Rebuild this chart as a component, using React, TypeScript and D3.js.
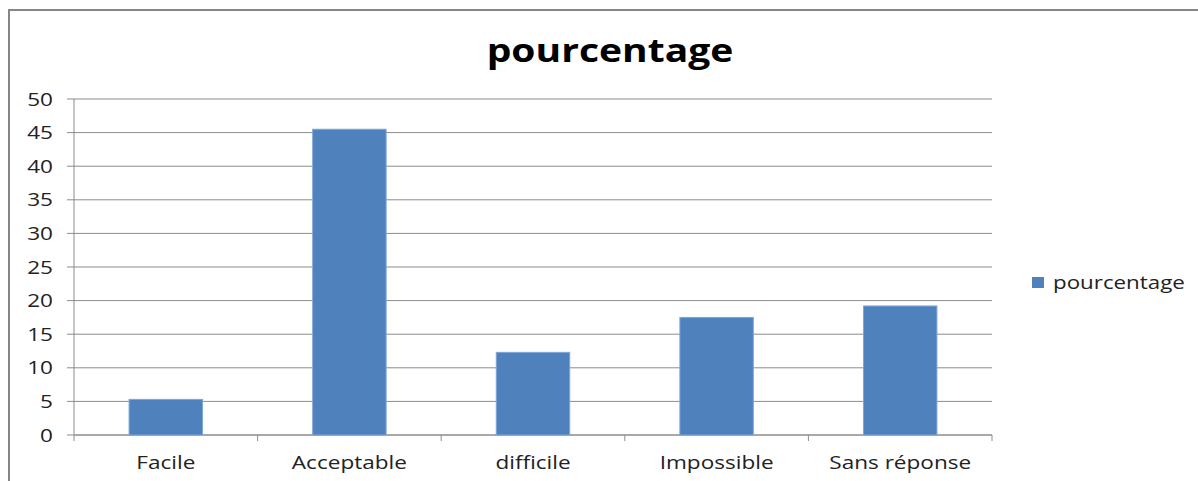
import * as d3 from 'd3'

const CATEGORIES = ['Facile', 'Acceptable', 'difficile', 'Impossible', 'Sans réponse']
const VALUES = [5.3, 45.5, 12.3, 17.5, 19.2]
const Y_TICKS = [0, 5, 10, 15, 20, 25, 30, 35, 40, 45, 50]
const SERIES_NAME = 'pourcentage'
const TITLE = 'pourcentage'

const W = 1198
const H = 481
const PLOT = { left: 74, right: 992, top: 99, bottom: 435 }
const FONT = "'Open Sans', 'DejaVu Sans', sans-serif"
const BAR = '#4f81bd'
const SX = 1.22 // the source picture is stretched sideways

function Label({ x, y, anchor = 'start', size = 18.5, bold = false, children }: any) {
  return (
    <text
      transform={`translate(${x},${y}) scale(${SX},1)`}
      textAnchor={anchor}
      fontFamily={FONT}
      fontSize={size}
      fontWeight={bold ? 'bold' : 'normal'}
      fill={bold ? '#000' : '#222'}
    >
      {children}
    </text>
  )
}

export default function App() {
  const x = d3.scaleBand()
    .domain(CATEGORIES)
    .range([PLOT.left, PLOT.right])
    .paddingInner(0.6)
    .paddingOuter(0.3)

  const y = d3.scaleLinear()
    .domain([0, 50])
    .range([PLOT.bottom, PLOT.top])

  const bounds = [PLOT.left, ...CATEGORIES.map(c => (x(c) ?? 0) + x.bandwidth() + x.step() * x.paddingInner() / 2)]
  bounds[bounds.length - 1] = PLOT.right

  return (
    <svg width={W} height={H} style={{ position: 'absolute', left: 0, top: 0 }}>
      <rect x={0} y={0} width={W} height={H} fill="#fff" />
      {/* outer frame */}
      <path d={`M9,${H} V10 H${W}`} fill="none" stroke="#868686" strokeWidth={2} />

      <Label x={610} y={62} anchor="middle" size={32} bold>{TITLE}</Label>

      {/* gridlines */}
      {Y_TICKS.map(t => (
        <line key={`g${t}`} x1={67} x2={PLOT.right} y1={y(t)} y2={y(t)} stroke="#8c8c8c" strokeWidth={1} />
      ))}
      {Y_TICKS.map(t => (
        <Label key={`t${t}`} x={53} y={y(t) + 6.5} anchor="end">{t}</Label>
      ))}

      {/* axes */}
      <line x1={PLOT.left} x2={PLOT.left} y1={PLOT.top} y2={PLOT.bottom} stroke="#8c8c8c" />
      <line x1={PLOT.left} x2={PLOT.right} y1={PLOT.bottom} y2={PLOT.bottom} stroke="#8c8c8c" />
      {bounds.map((b, i) => (
        <line key={`c${i}`} x1={b} x2={b} y1={PLOT.bottom} y2={PLOT.bottom + 6} stroke="#8c8c8c" />
      ))}

      {/* bars */}
      {CATEGORIES.map((c, i) => (
        <rect
          key={c}
          x={x(c)}
          y={y(VALUES[i])}
          width={x.bandwidth()}
          height={y(0) - y(VALUES[i])}
          fill={BAR}
          stroke="#7fa6d6"
          strokeWidth={1}
        />
      ))}

      {CATEGORIES.map(c => (
        <Label key={`l${c}`} x={(x(c) ?? 0) + x.bandwidth() / 2} y={469} anchor="middle">{c}</Label>
      ))}

      {/* legend */}
      <rect x={1032} y={277} width={12} height={11} fill={BAR} />
      <Label x={1053} y={289} size={18.3}>{SERIES_NAME}</Label>
    </svg>
  )
}
